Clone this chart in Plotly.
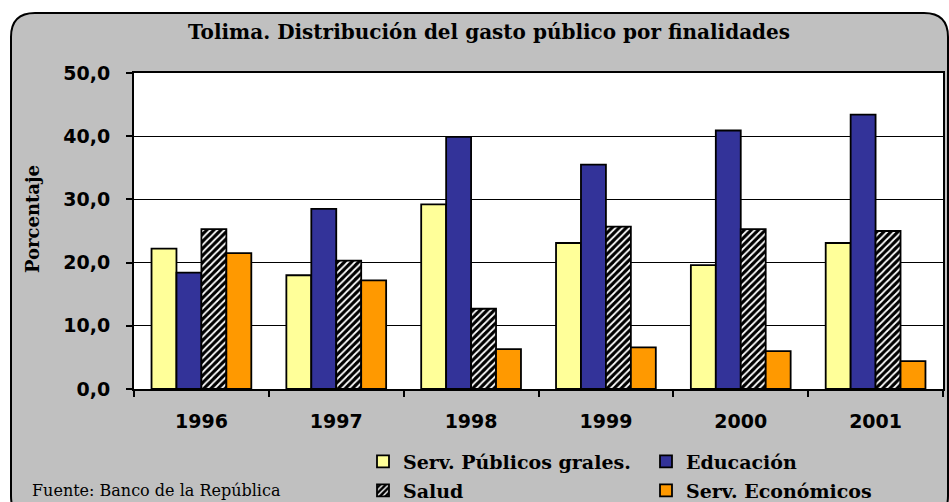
import plotly.graph_objects as go

years = ["1996", "1997", "1998", "1999", "2000", "2001"]
serv_publicos = [22.2, 18.0, 29.2, 23.1, 19.6, 23.1]
educacion = [18.4, 28.5, 39.9, 35.5, 40.9, 43.4]
salud = [25.3, 20.3, 12.7, 25.7, 25.3, 25.0]
serv_economicos = [21.5, 17.2, 6.3, 6.6, 6.0, 4.4]
series_names = ["Serv. Públicos grales.", "Educación", "Salud", "Serv. Económicos"]
y_ticks = [0, 10, 20, 30, 40, 50]

W, H = 949, 502
L, R, T, B = 134, 943, 73, 389
PW, PH = R - L, B - T


def px(x):
    return (x - L) / PW


def py(y):
    return (B - y) / PH


fig = go.Figure()
line = dict(color="black", width=1.8)
fig.add_bar(x=years, y=serv_publicos, name=series_names[0], legend="legend",
            marker=dict(color="#FFFF99", line=line))
fig.add_bar(x=years, y=educacion, name=series_names[1], legend="legend2",
            marker=dict(color="#333399", line=line))
fig.add_bar(x=years, y=salud, name=series_names[2], legend="legend3",
            marker=dict(color="black", line=line,
                        pattern=dict(shape="/", fgcolor="white", bgcolor="black",
                                     size=5, solidity=0.35, fillmode="replace")))
fig.add_bar(x=years, y=serv_economicos, name=series_names[3], legend="legend4",
            marker=dict(color="#FF9900", line=line))

# rounded grey panel
l, t, r, b, rad = 11, 13, 948, 520, 24
path = (f"M {px(l)},{py(t+rad)} Q {px(l)},{py(t)} {px(l+rad)},{py(t)} "
        f"L {px(r-rad)},{py(t)} Q {px(r)},{py(t)} {px(r)},{py(t+rad)} "
        f"L {px(r)},{py(b-rad)} Q {px(r)},{py(b)} {px(r-rad)},{py(b)} "
        f"L {px(l+rad)},{py(b)} Q {px(l)},{py(b)} {px(l)},{py(b-rad)} Z")
fig.add_shape(type="path", path=path, xref="paper", yref="paper", layer="below",
              fillcolor="#C0C0C0", line=dict(color="black", width=2))
fig.add_shape(type="rect", x0=0, x1=1, y0=0, y1=1, xref="paper", yref="paper",
              layer="below", fillcolor="white", line=dict(width=0))

serif_b = dict(family="DejaVu Serif", size=19, color="black", weight="bold")

fig.add_annotation(text="<b>Tolima. Distribución del gasto público por finalidades</b>",
                   x=px(489), y=py(32), xref="paper", yref="paper", showarrow=False,
                   xanchor="center", yanchor="middle",
                   font=dict(family="DejaVu Serif", size=20, color="black"))
fig.add_annotation(text="<b>Porcentaje</b>", textangle=-90,
                   x=px(32), y=py(219), xref="paper", yref="paper", showarrow=False,
                   xanchor="center", yanchor="middle",
                   font=dict(family="DejaVu Serif", size=18, color="black"))
fig.add_annotation(text="Fuente: Banco de la República",
                   x=px(30), y=py(490), xref="paper", yref="paper", showarrow=False,
                   xanchor="left", yanchor="middle",
                   font=dict(family="DejaVu Serif", size=16, color="black"))

leg_common = dict(orientation="h", xanchor="left", yanchor="middle",
                  bgcolor="rgba(0,0,0,0)", font=serif_b, borderwidth=0)
lx1, lx2 = 363, 646
ly1, ly2 = 461.5, 490.5
fig.update_layout(
    legend=dict(x=px(lx1), y=py(ly1), **leg_common),
    legend2=dict(x=px(lx2), y=py(ly1), **leg_common),
    legend3=dict(x=px(lx1), y=py(ly2), **leg_common),
    legend4=dict(x=px(lx2), y=py(ly2), **leg_common),
)

tick_font = dict(family="DejaVu Sans", size=19, color="black", weight="bold")
fig.update_layout(
    width=W, height=H,
    margin=dict(l=L, r=W - R, t=T, b=H - B, autoexpand=False),
    paper_bgcolor="white", plot_bgcolor="rgba(0,0,0,0)",
    barmode="group", bargap=0.26, bargroupgap=0,
    separators=",.",
    showlegend=True,
    xaxis=dict(type="category", tickson="boundaries", ticks="outside", ticklen=6,
               tickcolor="black", tickwidth=1.5, showline=True, linecolor="black",
               linewidth=2, mirror=True, showgrid=False,
               tickfont=tick_font, ticklabelstandoff=14),
    yaxis=dict(range=[0, 50], tickvals=y_ticks, tickformat=".1f", ticks="outside",
               ticklen=6, tickcolor="black", tickwidth=1.5, showline=True,
               linecolor="black", linewidth=2, mirror=True, showgrid=True,
               gridcolor="black", gridwidth=1, zeroline=False,
               tickfont=tick_font, ticklabelstandoff=12),
)

fig.write_html("out.html", config={"displayModeBar": False},
               post_script="document.body.style.margin='0';document.body.style.overflow='hidden';")
